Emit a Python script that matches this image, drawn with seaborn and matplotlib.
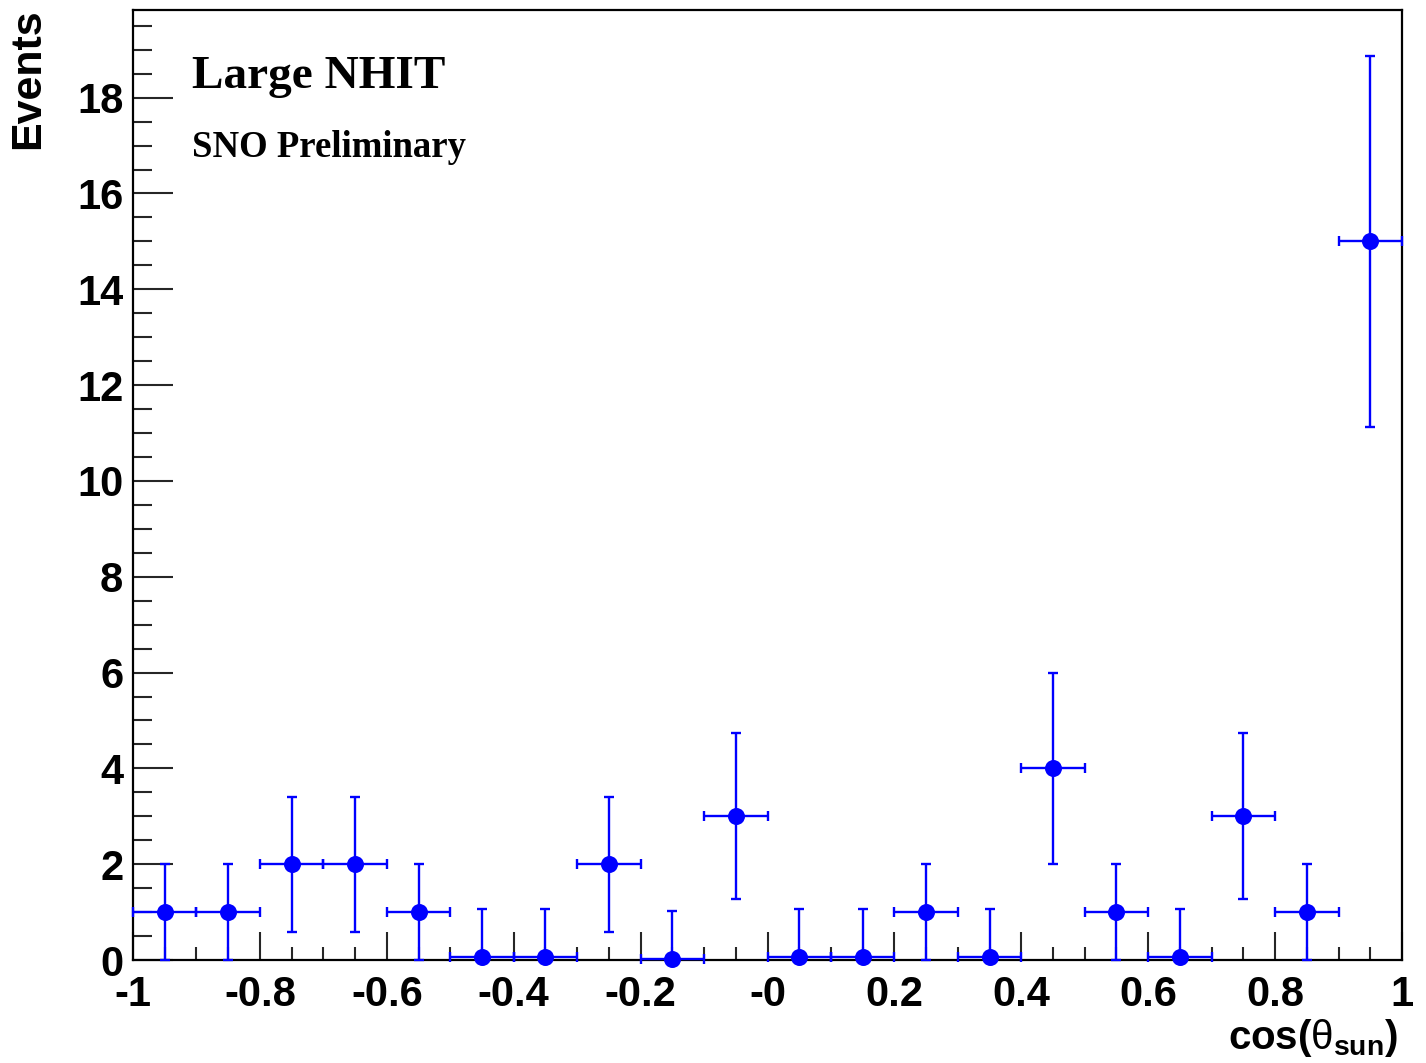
import numpy as np
import pandas as pd
import matplotlib
matplotlib.use("Agg")
import matplotlib.pyplot as plt
import seaborn as sns
from matplotlib.ticker import MultipleLocator, FixedLocator

# ---- data ----
bin_centers = [-0.95, -0.85, -0.75, -0.65, -0.55, -0.45, -0.35, -0.25, -0.15, -0.05,
               0.05, 0.15, 0.25, 0.35, 0.45, 0.55, 0.65, 0.75, 0.85, 0.95]
events = [1, 1, 2, 2, 1, 0.06, 0.06, 2, 0.02, 3,
          0.06, 0.06, 1, 0.06, 4, 1, 0.06, 3, 1, 15]
err_low = [1, 1, 1.41, 1.41, 1, 0.06, 0.06, 1.41, 0.02, 1.73,
           0.06, 0.06, 1, 0.06, 2, 1, 0.06, 1.73, 1, 3.87]
err_high = [1, 1, 1.41, 1.41, 1, 1.0, 1.0, 1.41, 1.0, 1.73,
            1.0, 1.0, 1, 1.0, 2, 1, 1.0, 1.73, 1, 3.87]
half_width = [0.05] * 20

x_ticks = [-1, -0.8, -0.6, -0.4, -0.2, 0, 0.2, 0.4, 0.6, 0.8, 1]
x_tick_labels = ["-1", "-0.8", "-0.6", "-0.4", "-0.2", "-0", "0.2", "0.4", "0.6", "0.8", "1"]
y_ticks = [0, 2, 4, 6, 8, 10, 12, 14, 16, 18]
y_tick_labels = ["0", "2", "4", "6", "8", "10", "12", "14", "16", "18"]

df = pd.DataFrame({"cos": bin_centers, "events": events})

sns.set_style("white")
plt.rcParams["font.family"] = ["Liberation Sans", "DejaVu Sans"]
plt.rcParams["mathtext.fontset"] = "custom"
plt.rcParams["mathtext.rm"] = "Liberation Sans:bold"
plt.rcParams["mathtext.it"] = "Liberation Sans"
plt.rcParams["mathtext.bf"] = "Liberation Sans:bold"

fig = plt.figure(figsize=(14.26, 10.63), dpi=100)
ax = fig.add_axes([133 / 1426, 1 - 960 / 1063, (1402 - 133) / 1426, (960 - 10) / 1063])

blue = "#0000ff"
ax.errorbar(bin_centers, events, xerr=half_width, yerr=[err_low, err_high],
            fmt="none", ecolor=blue, elinewidth=1.7, capsize=3.8, capthick=1.7,
            clip_on=False, zorder=3)
sns.scatterplot(data=df, x="cos", y="events", ax=ax, color=blue, s=150,
                marker="o", edgecolor=blue, linewidth=0, zorder=4, clip_on=False)

ax.set_xlim(-1, 1)
ax.set_ylim(0, 19.83)
ax.set_xlabel("")
ax.set_ylabel("")

ax.xaxis.set_major_locator(FixedLocator(x_ticks))
ax.set_xticklabels(x_tick_labels)
ax.xaxis.set_minor_locator(MultipleLocator(0.05))
ax.yaxis.set_major_locator(FixedLocator(y_ticks))
ax.set_yticklabels(y_tick_labels)
ax.yaxis.set_minor_locator(MultipleLocator(0.5))

ax.tick_params(axis="x", which="major", direction="in", length=20, width=1.5,
               labelsize=30, pad=11, top=False, bottom=True)
ax.tick_params(axis="x", which="minor", direction="in", length=9.5, width=1.5,
               top=False, bottom=True)
ax.tick_params(axis="y", which="major", direction="in", length=29, width=1.5,
               labelsize=30, pad=7, right=False, left=True)
ax.tick_params(axis="y", which="minor", direction="in", length=14, width=1.5,
               right=False, left=True)
for lab in ax.get_xticklabels() + ax.get_yticklabels():
    lab.set_fontweight("bold")
    lab.set_color("black")

for sp in ax.spines.values():
    sp.set_visible(True)
    sp.set_linewidth(1.6)
    sp.set_color("black")

fig.text(28 / 1426, 1 - 8 / 1063, "Events", rotation=90, ha="center", va="top",
         fontsize=31, fontweight="bold", color="black")
fig.text(1398 / 1426, 1 - 1049 / 1063, r"$\mathrm{cos(}\theta_{\mathrm{sun}}\mathrm{)}$",
         ha="right", va="baseline", fontsize=29, color="black")

fig.text(192 / 1426, 1 - 88 / 1063, "Large NHIT", family=["Liberation Serif"],
         fontweight="bold", fontsize=34, ha="left", va="baseline", color="black")
fig.text(192 / 1426, 1 - 157 / 1063, "SNO Preliminary", family=["Liberation Serif"],
         fontweight="bold", fontsize=26.5, ha="left", va="baseline", color="black")

fig.savefig("out.png", dpi=100, facecolor="white")
